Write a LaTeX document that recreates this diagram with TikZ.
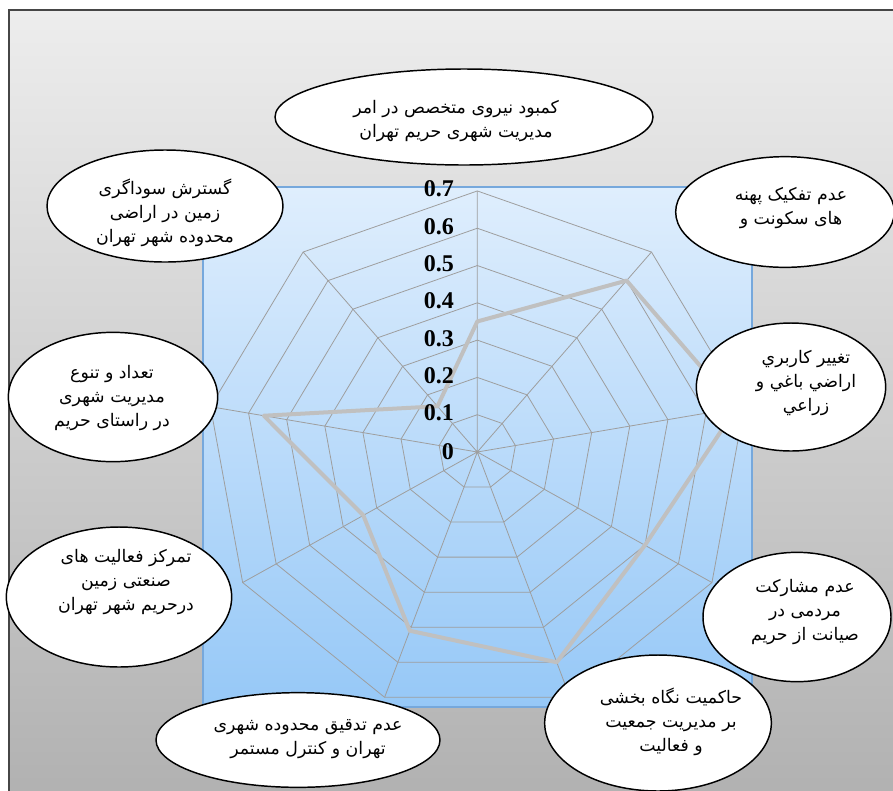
\documentclass[tikz,border=0pt]{standalone}
\usepackage{fontspec}
\setmainfont{Liberation Serif}
\newfontfamily\arabicfont[Script=Arabic]{DejaVu Sans}
\TeXXeTstate=1
\usetikzlibrary{positioning}
\usetikzlibrary{shapes.geometric}
\definecolor{bglight}{RGB}{237,237,237}
\definecolor{bgdark}{RGB}{176,176,176}
\definecolor{framegray}{RGB}{70,70,70}
\definecolor{plottop}{RGB}{223,238,253}
\definecolor{plotbot}{RGB}{150,200,247}
\definecolor{plotedge}{RGB}{118,168,220}
\definecolor{gridgray}{RGB}{158,158,158}
\definecolor{linegray}{RGB}{192,192,192}

\begin{document}
\begin{tikzpicture}[x=0.75pt, y=-0.75pt]
			\tikzstyle{backfill}=[draw=framegray, line width=1.1pt, top color=bglight, bottom color=bgdark]
			\tikzstyle{plotarea}=[draw=plotedge, line width=0.8pt, top color=plottop, bottom color=plotbot]
			\tikzstyle{grid}=[draw=gridgray, line width=0.6pt]
			\tikzstyle{dataline}=[draw=linegray, line width=3pt, line join=round]
			\tikzstyle{num}=[anchor=east, inner sep=0pt, font=\bfseries\fontsize{18}{20}\selectfont]
			\tikzstyle{bubble}=[ellipse, draw=black, line width=1.1pt, fill=white, inner sep=0pt]
			\tikzstyle{btext}=[align=center, inner sep=0pt, font=\arabicfont\fontsize{13}{18}\selectfont]
			
			\useasboundingbox (0,0) rectangle (893,790);
			\draw[backfill] (9,10) rectangle (910,810);
			\draw[plotarea] (203,187) rectangle (752,707);
			
			% one unit = 0.1 on the radial axis
			\begin{scope}[shift={(477.3,452)}, x=29.03pt, y=27.97pt]
			\draw[grid] (90:1) -- (50:1) -- (10:1) -- (-30:1) -- (-70:1) -- (-110:1) -- (-150:1) -- (170:1) -- (130:1) -- cycle;
			\draw[grid] (90:2) -- (50:2) -- (10:2) -- (-30:2) -- (-70:2) -- (-110:2) -- (-150:2) -- (170:2) -- (130:2) -- cycle;
			\draw[grid] (90:3) -- (50:3) -- (10:3) -- (-30:3) -- (-70:3) -- (-110:3) -- (-150:3) -- (170:3) -- (130:3) -- cycle;
			\draw[grid] (90:4) -- (50:4) -- (10:4) -- (-30:4) -- (-70:4) -- (-110:4) -- (-150:4) -- (170:4) -- (130:4) -- cycle;
			\draw[grid] (90:5) -- (50:5) -- (10:5) -- (-30:5) -- (-70:5) -- (-110:5) -- (-150:5) -- (170:5) -- (130:5) -- cycle;
			\draw[grid] (90:6) -- (50:6) -- (10:6) -- (-30:6) -- (-70:6) -- (-110:6) -- (-150:6) -- (170:6) -- (130:6) -- cycle;
			\draw[grid] (90:7) -- (50:7) -- (10:7) -- (-30:7) -- (-70:7) -- (-110:7) -- (-150:7) -- (170:7) -- (130:7) -- cycle;
			\draw[grid] (0,0) -- (90:7) (0,0) -- (50:7) (0,0) -- (10:7) (0,0) -- (-30:7) (0,0) -- (-70:7)
				(0,0) -- (-110:7) (0,0) -- (-150:7) (0,0) -- (170:7) (0,0) -- (130:7);
			
			\draw[dataline] (90:3.5) -- (50:6) -- (10:6.8) -- (-30:5) -- (-70:6) -- (-110:5.1) -- (-150:3.4) -- (170:5.6) -- (130:1.6) -- cycle;
			
			\node[num] (n0) at (-0.6,0) {0};
			\node[num] (n1) at (-0.6,1.05) {0.1};
			\node[num] (n2) at (-0.6,2.05) {0.2};
			\node[num] (n3) at (-0.6,3.05) {0.3};
			\node[num] (n4) at (-0.6,4.05) {0.4};
			\node[num] (n5) at (-0.6,5.05) {0.5};
			\node[num] (n6) at (-0.6,6.05) {0.6};
			\node[num] (n7) at (-0.6,7.05) {0.7};
			\end{scope}
			
			% حباب ها
			\draw node at (464,117) [bubble, minimum width=283.5pt, minimum height=72pt] (b0) {};
			\draw node at (456,121) [btext] (t0) {\beginR کمبود نیروی متخصص در امر\endR\\ \beginR مدیریت شهری حریم تهران\endR};
			\draw node at (785,212) [bubble, minimum width=164pt, minimum height=83pt] (b1) {};
			\draw node at (791,208) [btext] (t1) {\beginR عدم تفکیک پهنه\endR\\ \beginR های سکونت و\endR};
			\draw node at (791,387) [bubble, minimum width=142pt, minimum height=96pt] (b2) {};
			\draw node at (806,383) [btext] (t2) {\beginR تغییر کاربري\endR\\ \beginR اراضي باغي و\endR\\ \beginR زراعي\endR};
			\draw node at (797,617) [bubble, minimum width=141pt, minimum height=97pt] (b3) {};
			\draw node at (805,612) [btext] (t3) {\beginR عدم مشارکت\endR\\ \beginR مردمی در\endR\\ \beginR صیانت از حریم\endR};
			\draw node at (658,723) [bubble, minimum width=170pt, minimum height=102pt] (b4) {};
			\draw node at (671,722) [btext] (t4) {\beginR حاکمیت نگاه بخشی\endR\\ \beginR بر مدیریت جمعیت\endR\\ \beginR و فعالیت\endR};
			\draw node at (298,740) [bubble, minimum width=213pt, minimum height=71pt] (b5) {};
			\draw node at (308,739) [btext] (t5) {\beginR عدم تدقیق محدوده شهری\endR\\ \beginR تهران و کنترل مستمر\endR};
			\draw node at (119,597) [bubble, minimum width=169pt, minimum height=105pt] (b6) {};
			\draw node at (126,582) [btext] (t6) {\beginR تمرکز فعالیت های\endR\\ \beginR صنعتی زمین\endR\\ \beginR درحریم شهر تهران\endR};
			\draw node at (113,397) [bubble, minimum width=157pt, minimum height=97pt] (b7) {};
			\draw node at (112,398) [btext] (t7) {\beginR تعداد و تنوع\endR\\ \beginR مدیریت شهری\endR\\ \beginR در راستای حریم\endR};
			\draw node at (165,206) [bubble, minimum width=177pt, minimum height=84pt] (b8) {};
			\draw node at (165,213) [btext] (t8) {\beginR گسترش سوداگری\endR\\ \beginR زمین در اراضی\endR\\ \beginR محدوده شهر تهران\endR};
\end{tikzpicture}
\end{document}
